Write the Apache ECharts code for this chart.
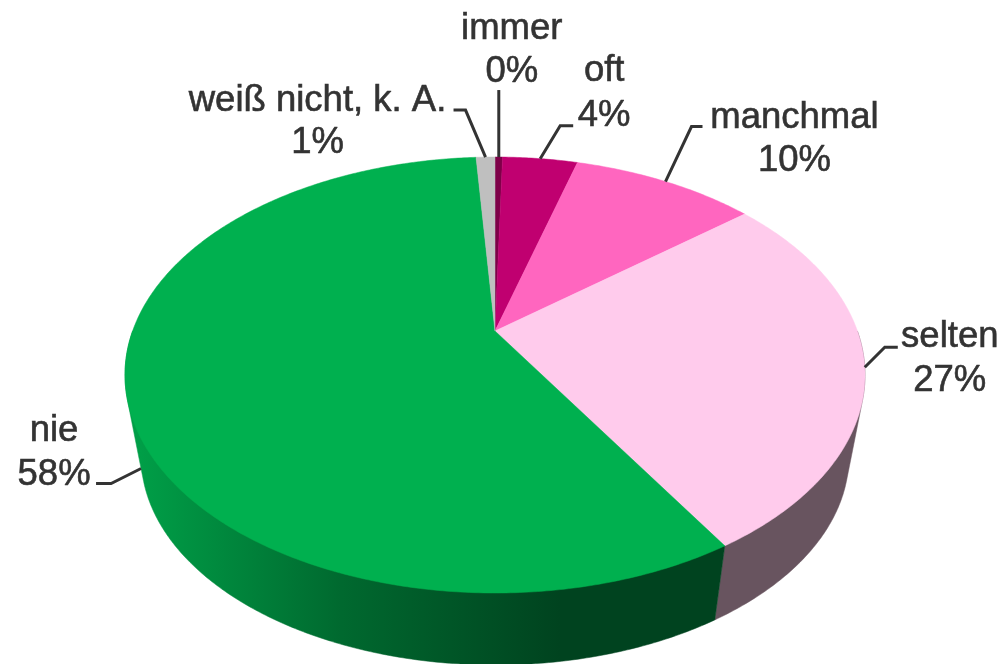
<!DOCTYPE html>
<html>
<head>
<meta charset="utf-8">
<style>html,body{margin:0;padding:0;background:#fff}#c{width:1005px;height:664px}</style>
<script src="https://cdn.jsdelivr.net/npm/echarts@6/dist/echarts.min.js"></script>
</head>
<body>
<div id="c"></div>
<script>
const categories = ['immer', 'oft', 'manchmal', 'selten', 'nie', 'weiß nicht, k. A.'];
const values = [0.4, 3.98, 9.77, 27.05, 57.8, 1.0];
const topColors = ['#7e0048', '#c00070', '#ff66bf', '#ffcbec', '#00b04f', '#bfbfbf'];
const wallColors = ['#3f0024', '#600038', '#804060', '#68545f', null, '#606060'];

// Projection of the pie disc: perspective seen from above
const view = {cx: 495, cy: 331, a: 362.4, b: 209.1, p: 0.2019, vanishY: 2248, wallScale: 0.9565};
// Label layout, relative to each slice's rim anchor: text line centres and leader elbow
const layout = [
  {tx: 13,  ty1: -128, ty2: -85,  elbow: null, start: [0, -67], depth: 0},
  {tx: 64,  ty1: -88,  ty2: -43,  elbow: [20, -33], start: [33, -33], depth: 0},
  {tx: 129, ty1: -64,  ty2: -21,  elbow: [26, -55], start: [37, -55], depth: 0},
  {tx: 85,  ty1: -30,  ty2: 14,   elbow: [20, -20], start: [33, -20], depth: 0},
  {tx: -87, ty1: -38,  ty2: 6,    elbow: [-30, 15], start: [-45, 15], depth: 0.87},
  {tx: -168, ty1: -56, ty2: -14,  elbow: [-20, -47], start: [-32, -47], depth: 0}
];
const total = values.reduce((s, v) => s + v, 0);
const bounds = values.reduce((acc, v) => { acc.push(acc[acc.length - 1] + v / total * Math.PI * 2); return acc; }, [0]);

function rim(theta) {
  const u = Math.sin(theta), v = Math.cos(theta), d = 1 + view.p * v;
  return [view.cx + view.a * u / d, view.cy - view.b * v / d];
}
function lower(pt, f) {
  const s = 1 - (1 - view.wallScale) * f;
  return [view.cx + (pt[0] - view.cx) * s, view.vanishY - (view.vanishY - pt[1]) * s];
}
function arc(t0, t1, step) {
  const n = Math.max(2, Math.ceil((t1 - t0) / step)), out = [];
  for (let i = 0; i <= n; i++) out.push(rim(t0 + (t1 - t0) * i / n));
  return out;
}
function hull(points) {
  const p = points.slice().sort((a, b) => a[0] - b[0] || a[1] - b[1]);
  const cross = (o, a, b) => (a[0] - o[0]) * (b[1] - o[1]) - (a[1] - o[1]) * (b[0] - o[0]);
  const half = list => {
    const h = [];
    for (const q of list) {
      while (h.length > 1 && cross(h[h.length - 2], h[h.length - 1], q) <= 0) h.pop();
      h.push(q);
    }
    h.pop();
    return h;
  };
  return half(p).concat(half(p.reverse()));
}
const nieWall = new echarts.graphic.LinearGradient(140, 0, 560, 0, [
  {offset: 0, color: '#009e47'}, {offset: 0.48, color: '#00692f'}, {offset: 1, color: '#00431f'}
], true);

function wallItem(params, api) {
  const i = api.value(0);
  const t0 = Math.max(bounds[i], Math.PI / 2), t1 = Math.min(bounds[i + 1], Math.PI * 3 / 2);
  if (t1 <= t0) return {type: 'group', children: []};
  const pts = arc(t0, t1, 0.01), fill = wallColors[i] || nieWall;
  return {
    type: 'polygon',
    shape: {points: hull(pts.concat(pts.map(p => lower(p, 1))))},
    style: {fill: fill, stroke: fill, lineWidth: 0.5}
  };
}
function topItem(params, api) {
  const i = api.value(0);
  const poly = [[view.cx, view.cy]].concat(arc(bounds[i], bounds[i + 1], 0.01));
  return {type: 'polygon', shape: {points: poly}, style: {fill: topColors[i], stroke: topColors[i], lineWidth: 0.5}};
}
function labelItem(params, api) {
  const i = api.value(0), l = layout[i];
  const anchor = lower(rim((bounds[i] + bounds[i + 1]) / 2), l.depth);
  const linePts = [[anchor[0] + l.start[0], anchor[1] + l.start[1]]];
  if (l.elbow) linePts.push([anchor[0] + l.elbow[0], anchor[1] + l.elbow[1]]);
  linePts.push(anchor);
  const font = '36.5px "Liberation Sans", Arial, sans-serif';
  const text = (s, y) => ({
    type: 'text', x: anchor[0] + l.tx, y: anchor[1] + y,
    style: {text: s, font: font, fill: '#333333', stroke: '#333333', lineWidth: 0.6, align: 'center', verticalAlign: 'middle'}
  });
  return {type: 'group', children: [
    {type: 'polyline', shape: {points: linePts}, style: {fill: 'none', stroke: '#333333', lineWidth: 3}},
    text(categories[i], l.ty1),
    text(Math.round(values[i]) + '%', l.ty2)
  ]};
}
const data = values.map((v, i) => [i, v]);
const chart = echarts.init(document.getElementById('c'), null, {renderer: 'canvas'});
chart.setOption({
  animation: false,
  backgroundColor: '#ffffff',
  series: [
    {type: 'custom', coordinateSystem: 'none', z: 1, data: data, renderItem: wallItem, silent: true},
    {type: 'custom', coordinateSystem: 'none', z: 2, data: data, renderItem: topItem, silent: true},
    {type: 'custom', coordinateSystem: 'none', z: 3, data: data, renderItem: labelItem, silent: true, clip: false}
  ]
});
</script>
</body>
</html>
